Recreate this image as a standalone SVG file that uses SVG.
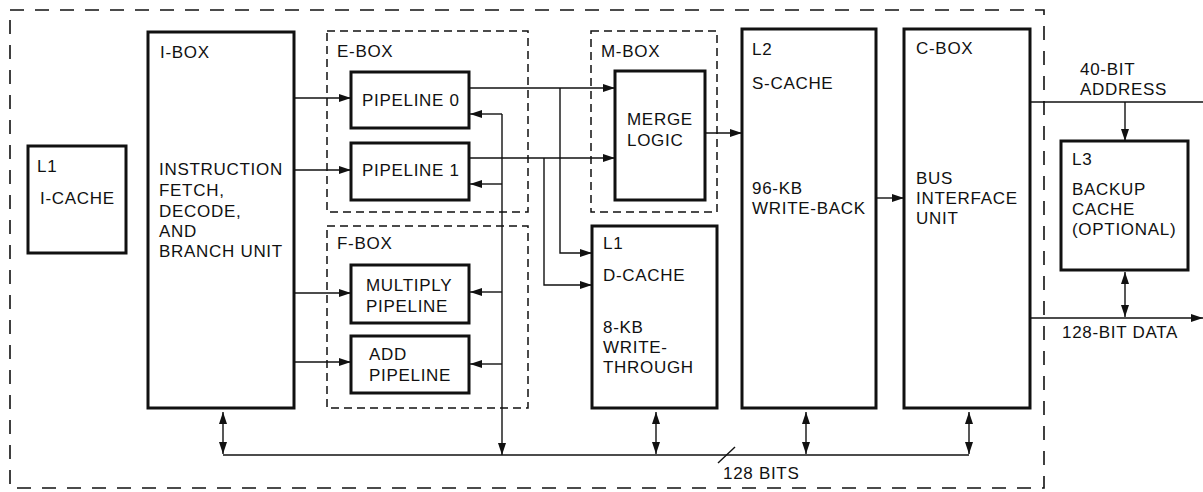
<svg xmlns="http://www.w3.org/2000/svg" width="1203" height="492" viewBox="0 0 1203 492">
<style>
text{font-family:"Liberation Sans",Arial,sans-serif;font-size:17px;letter-spacing:0.7px;fill:#111}
.box{fill:#fff;stroke:#111;stroke-width:3}
.dash{fill:none;stroke:#111;stroke-width:1.5;stroke-dasharray:8 5}
.outer{fill:none;stroke:#111;stroke-width:1.6;stroke-dasharray:14 11}
.c{fill:none;stroke:#111;stroke-width:1.4}
.a{marker-end:url(#ah)}
.d{marker-start:url(#ah);marker-end:url(#ah)}
</style>
<defs>
<marker id="ah" markerUnits="userSpaceOnUse" markerWidth="12" markerHeight="8" refX="12" refY="4" orient="auto-start-reverse">
<path d="M0,0 L12,4 L0,8 z" fill="#111"/>
</marker>
</defs>
<rect width="1203" height="492" fill="#fff"/>
<rect id="chip" class="outer" x="10" y="10" width="1034" height="478"/>

<g id="l1-icache">
<rect class="box" x="28" y="146" width="98" height="107"/>
<text x="37" y="172">L1</text>
<text x="40" y="204">I-CACHE</text>
</g>

<g id="ibox">
<rect class="box" x="148" y="32" width="146" height="376"/>
<text x="160" y="58">I-BOX</text>
<text x="159" y="175">INSTRUCTION</text>
<text x="159" y="196">FETCH,</text>
<text x="159" y="217">DECODE,</text>
<text x="159" y="237">AND</text>
<text x="159" y="257">BRANCH UNIT</text>
</g>

<g id="ebox">
<rect class="dash" x="327" y="31" width="201" height="181"/>
<text x="337" y="57">E-BOX</text>
</g>
<g id="pipeline0">
<rect class="box" x="351" y="72" width="118" height="56"/>
<text x="362" y="106">PIPELINE 0</text>
</g>
<g id="pipeline1">
<rect class="box" x="351" y="143" width="118" height="57"/>
<text x="362" y="176">PIPELINE 1</text>
</g>

<g id="fbox">
<rect class="dash" x="327" y="226" width="201" height="182"/>
<text x="337" y="249">F-BOX</text>
</g>
<g id="multiply">
<rect class="box" x="351" y="265" width="118" height="58"/>
<text x="366" y="291">MULTIPLY</text>
<text x="366" y="312">PIPELINE</text>
</g>
<g id="add">
<rect class="box" x="351" y="336" width="118" height="57"/>
<text x="369" y="360">ADD</text>
<text x="369" y="381">PIPELINE</text>
</g>

<g id="mbox">
<rect class="dash" x="591" y="31" width="126" height="181"/>
<text x="601" y="57">M-BOX</text>
</g>
<g id="merge">
<rect class="box" x="615" y="71" width="90" height="129"/>
<text x="627" y="125">MERGE</text>
<text x="627" y="146">LOGIC</text>
</g>

<g id="l1-dcache">
<rect class="box" x="592" y="226" width="125" height="182"/>
<text x="603" y="249">L1</text>
<text x="603" y="281">D-CACHE</text>
<text x="603" y="333">8-KB</text>
<text x="603" y="353">WRITE-</text>
<text x="603" y="373">THROUGH</text>
</g>

<g id="l2-scache">
<rect class="box" x="742" y="29" width="134" height="379"/>
<text x="752" y="55">L2</text>
<text x="752" y="89">S-CACHE</text>
<text x="752" y="194">96-KB</text>
<text x="752" y="214">WRITE-BACK</text>
</g>

<g id="cbox">
<rect class="box" x="904" y="29" width="126" height="379"/>
<text x="916" y="54">C-BOX</text>
<text x="916" y="184">BUS</text>
<text x="916" y="204">INTERFACE</text>
<text x="916" y="224">UNIT</text>
</g>

<g id="l3">
<rect class="box" x="1061" y="141" width="127" height="129"/>
<text x="1072" y="165">L3</text>
<text x="1072" y="195">BACKUP</text>
<text x="1072" y="215">CACHE</text>
<text x="1072" y="235">(OPTIONAL)</text>
</g>

<g id="connectors">
<path class="c a" d="M294,98 H351"/>
<path class="c a" d="M294,170 H351"/>
<path class="c a" d="M294,293 H351"/>
<path class="c a" d="M294,362 H351"/>
<path class="c a" d="M469,88 H615"/>
<path class="c a" d="M469,158 H615"/>
<path class="c a" d="M560,88 V253 H592"/>
<path class="c a" d="M544,158 V285 H592"/>
<path class="c a" d="M502,114 V455"/>
<path class="c a" d="M502,114 H470"/>
<path class="c a" d="M502,184 H470"/>
<path class="c a" d="M502,292 H470"/>
<path class="c a" d="M502,364 H470"/>
<path class="c a" d="M705,133 H742"/>
<path class="c a" d="M876,198 H904"/>
<path class="c" d="M223,455 H969"/>
<path class="c d" d="M223,412 V454"/>
<path class="c d" d="M656,412 V454"/>
<path class="c d" d="M806,412 V454"/>
<path class="c d" d="M969,412 V454"/>
<path class="c" d="M718,463 L735,447"/>
<path class="c" d="M1030,102 H1203"/>
<path class="c a" d="M1125,102 V141"/>
<path class="c a" d="M1030,318 H1203"/>
<path class="c d" d="M1125,272 V317"/>
</g>

<g id="labels">
<text x="1080" y="75">40-BIT</text>
<text x="1080" y="95">ADDRESS</text>
<text x="1062" y="338">128-BIT DATA</text>
<text x="723" y="479">128 BITS</text>
</g>
</svg>
